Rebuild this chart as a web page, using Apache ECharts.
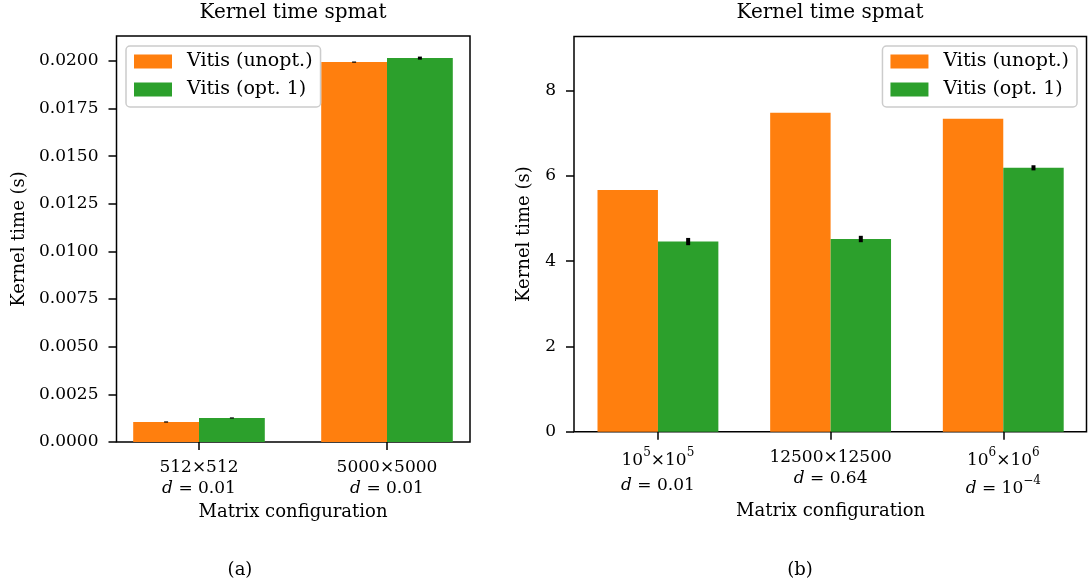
<!DOCTYPE html>
<html>
<head>
<meta charset="utf-8">
<style>
html,body{margin:0;padding:0;background:#fff;}
#main{width:1088px;height:588px;}
</style>
<script src="https://cdn.jsdelivr.net/npm/echarts@6/dist/echarts.min.js"></script>
</head>
<body>
<div id="main"></div>
<script>
var seriesNames = ['Vitis (unopt.)', 'Vitis (opt. 1)'];

// (a) small matrices
var catsA = ['512x512', '5000x5000'];
var labelsA = ['{n|512×512}\n{it|d}{n| = 0.01}', '{n|5000×5000}\n{it|d}{n| = 0.01}'];
var unoptA = [0.00105, 0.01993];
var opt1A = [0.00126, 0.02014];
var unoptErrA = [0.000005, 0.00002];
var opt1ErrA = [0.000005, 0.00008];
var yTicksA = [0, 0.0025, 0.005, 0.0075, 0.01, 0.0125, 0.015, 0.0175, 0.02];
var yMaxA = 0.0213;

// (b) large matrices
var catsB = ['1e5x1e5', '12500x12500', '1e6x1e6'];
var labelsB = [
  '{m|10}{sup|5}{m|×10}{sup|5}\n{it|d}{n| = 0.01}',
  '{n|12500×12500}\n{it|d}{n| = 0.64}',
  '{m|10}{sup|6}{m|×10}{sup|6}\n{mi|d}{m| = 10}{sup|−4}'
];
var unoptB = [5.67, 7.48, 7.34];
var opt1B = [4.46, 4.52, 6.19];
var unoptErrB = [0, 0, 0];
var opt1ErrB = [0.085, 0.075, 0.06];
var yTicksB = [0, 2, 4, 6, 8];
var yMaxB = 9.27;

var FONT = 'DejaVu Serif';
var ORANGE = '#ff7f0e';
var GREEN = '#2ca02c';

// m / mi: taller lines that hold a superscript
var rich = {
  n: {fontFamily: FONT, fontSize: 17, lineHeight: 21, color: '#000'},
  it: {fontFamily: FONT, fontSize: 17, lineHeight: 21, fontStyle: 'italic', color: '#000'},
  m: {fontFamily: FONT, fontSize: 17, lineHeight: 28, color: '#000'},
  mi: {fontFamily: FONT, fontSize: 17, lineHeight: 28, fontStyle: 'italic', color: '#000'},
  sup: {fontFamily: FONT, fontSize: 12, lineHeight: 20, verticalAlign: 'top', color: '#000'}
};

function errData(vals, errs) {
  return vals.map(function (v, i) { return [i, v, errs[i]]; });
}

// side: -1 left bar of the pair, +1 right bar
function errRender(side) {
  return function (params, api) {
    var e = api.value(2);
    if (!e) return null;
    var x = api.value(0), v = api.value(1);
    var lo = api.coord([x, v - e]);
    var hi = api.coord([x, v + e]);
    var band = api.size([1, 0])[0];
    var cx = lo[0] + side * band * 0.175;
    var h = Math.max(lo[1] - hi[1], 1.2);
    var cy = (lo[1] + hi[1]) / 2;
    return {
      type: 'rect',
      shape: {x: cx - 2, y: cy - h / 2, width: 4, height: h},
      style: {fill: '#000'}
    };
  };
}

function frameY(gridIndex, max, ticks, fmt, gap) {
  return {
    gridIndex: gridIndex, type: 'value', min: 0, max: max,
    axisLine: {show: false},
    splitLine: {show: false},
    axisTick: {show: true, length: 8, customValues: ticks, lineStyle: {color: '#000', width: 1.5}},
    axisLabel: {customValues: ticks, formatter: fmt, margin: 18, fontFamily: FONT, fontSize: 17, color: '#000'},
    name: 'Kernel time (s)', nameLocation: 'middle', nameRotate: 90, nameGap: gap,
    nameMoveOverlap: false,
    nameTextStyle: {fontFamily: FONT, fontSize: 18, color: '#000'}
  };
}

function dataX(gridIndex, cats, labels, gap) {
  return {
    gridIndex: gridIndex, type: 'category', data: cats,
    axisLine: {show: false},
    axisTick: {show: true, alignWithLabel: true, length: 8, lineStyle: {color: '#000', width: 1.5}},
    axisLabel: {
      margin: 15, interval: 0,
      formatter: function (val, idx) { return labels[idx]; },
      rich: rich
    },
    name: 'Matrix configuration', nameLocation: 'middle', nameGap: gap,
    nameMoveOverlap: false,
    nameTextStyle: {fontFamily: FONT, fontSize: 18, color: '#000'}
  };
}

function legendAt(pos) {
  var l = {
    data: seriesNames, orient: 'vertical', top: 46,
    icon: 'rect', itemWidth: 38, itemHeight: 14, itemGap: 9,
    backgroundColor: 'rgba(255,255,255,0.8)', borderColor: '#cccccc', borderWidth: 1.5, borderRadius: 4,
    padding: [6, 8, 8, 8],
    textStyle: {fontFamily: FONT, fontSize: 19, color: '#000', padding: [0, 0, 0, 10]}
  };
  for (var k in pos) l[k] = pos[k];
  return l;
}

var titleStyle = {fontFamily: FONT, fontSize: 20, fontWeight: 'normal', color: '#000'};
var capStyle = {fontFamily: FONT, fontSize: 18, fontWeight: 'normal', color: '#000'};

var chart = echarts.init(document.getElementById('main'));
chart.setOption({
  animation: false,
  backgroundColor: '#fff',
  textStyle: {fontFamily: FONT, color: '#000'},
  title: [
    {text: 'Kernel time spmat', left: 293, top: 3, textAlign: 'center', padding: 0, textStyle: titleStyle},
    {text: 'Kernel time spmat', left: 830, top: 3, textAlign: 'center', padding: 0, textStyle: titleStyle},
    {text: '(a)', left: 240, top: 561, textAlign: 'center', padding: 0, textStyle: capStyle},
    {text: '(b)', left: 800, top: 561, textAlign: 'center', padding: 0, textStyle: capStyle}
  ],
  legend: [
    legendAt({left: 126}),
    legendAt({right: 11})
  ],
  grid: [
    // frame (a)
    {left: 116.5, top: 36, right: 618, bottom: 146, show: true, borderColor: '#000', borderWidth: 1.5,
      backgroundColor: 'transparent', containLabel: false, outerBoundsMode: 'none'},
    // data (a): one category per 188 px
    {left: 105, top: 36, right: 607, bottom: 146, containLabel: false, outerBoundsMode: 'none'},
    // frame (b)
    {left: 574, top: 36.5, right: 1.5, bottom: 156.3, show: true, borderColor: '#000', borderWidth: 1.5,
      backgroundColor: 'transparent', containLabel: false, outerBoundsMode: 'none'},
    // data (b)
    {left: 571.6, top: 36.5, right: -1.6, bottom: 156.3, containLabel: false, outerBoundsMode: 'none'}
  ],
  xAxis: [
    {gridIndex: 0, type: 'value', show: false},
    dataX(1, catsA, labelsA, 61),
    {gridIndex: 2, type: 'value', show: false},
    dataX(3, catsB, labelsB, 71)
  ],
  yAxis: [
    frameY(0, yMaxA, yTicksA, function (v) { return v.toFixed(4); }, 88),
    {gridIndex: 1, type: 'value', min: 0, max: yMaxA, show: false},
    frameY(2, yMaxB, yTicksB, function (v) { return String(v); }, 41),
    {gridIndex: 3, type: 'value', min: 0, max: yMaxB, show: false}
  ],
  series: [
    {name: seriesNames[0], type: 'bar', xAxisIndex: 1, yAxisIndex: 1, data: unoptA,
      barWidth: '35%', barGap: '0%', itemStyle: {color: ORANGE}},
    {name: seriesNames[1], type: 'bar', xAxisIndex: 1, yAxisIndex: 1, data: opt1A,
      barWidth: '35%', barGap: '0%', itemStyle: {color: GREEN}},
    {type: 'custom', xAxisIndex: 1, yAxisIndex: 1, data: errData(unoptA, unoptErrA), renderItem: errRender(-1), z: 5},
    {type: 'custom', xAxisIndex: 1, yAxisIndex: 1, data: errData(opt1A, opt1ErrA), renderItem: errRender(1), z: 5},

    {name: seriesNames[0], type: 'bar', xAxisIndex: 3, yAxisIndex: 3, data: unoptB,
      barWidth: '35%', barGap: '0%', itemStyle: {color: ORANGE}},
    {name: seriesNames[1], type: 'bar', xAxisIndex: 3, yAxisIndex: 3, data: opt1B,
      barWidth: '35%', barGap: '0%', itemStyle: {color: GREEN}},
    {type: 'custom', xAxisIndex: 3, yAxisIndex: 3, data: errData(unoptB, unoptErrB), renderItem: errRender(-1), z: 5},
    {type: 'custom', xAxisIndex: 3, yAxisIndex: 3, data: errData(opt1B, opt1ErrB), renderItem: errRender(1), z: 5}
  ]
});
</script>
</body>
</html>
